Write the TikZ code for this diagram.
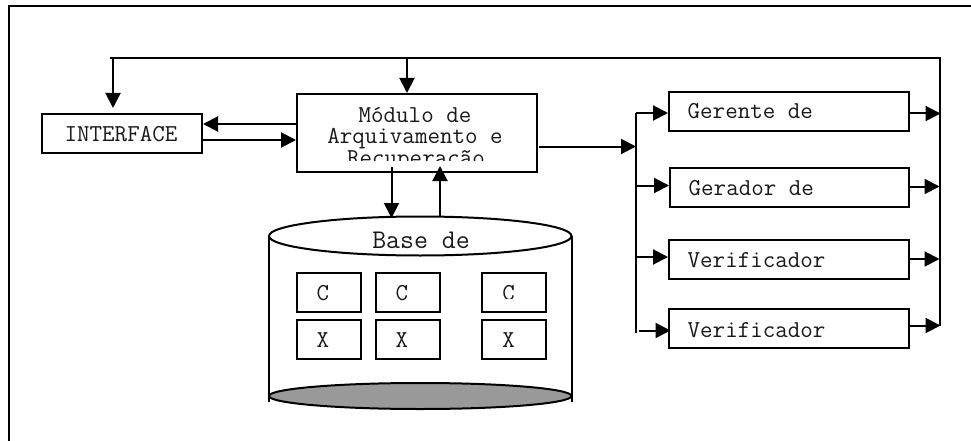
\documentclass[tikz,border=0pt]{standalone}
\usetikzlibrary{arrows.meta}
\tikzset{
  x=1pt,y=-1pt,
  box/.style={draw=black,line width=2pt,fill=white,inner sep=0pt,anchor=north west},
  conn/.style={line width=2pt,-{Triangle[length=15pt,width=15pt]}},
  wire/.style={line width=2pt},
  lbl/.style={font=\fontsize{24.3}{27}\selectfont\ttfamily,text=black!90,inner sep=0pt,anchor=base},
  lblw/.style={lbl,anchor=base west}
}
\begin{document}
\begin{tikzpicture}
\useasboundingbox (0,0) rectangle (971,441);
\draw[line width=2.2pt] (971,6) -- (9,6) -- (9,441);
% boxes
\node[box,minimum width=160pt,minimum height=39pt] (iface) at (41,113) {};
\node[box,minimum width=240pt,minimum height=78pt] (mod) at (296,93) {};
\node[box,minimum width=240pt,minimum height=39pt] (g1) at (668,91) {};
\node[box,minimum width=239pt,minimum height=39pt] (g2) at (669,167) {};
\node[box,minimum width=240pt,minimum height=39pt] (v1) at (668,239) {};
\node[box,minimum width=240pt,minimum height=39pt] (v2) at (668,308) {};
% labels
\node[lbl] (tiface) at (121,142) {INTERFACE};
\node[lbl] (t1) at (415,122) {Módulo de};
\node[lbl] (t2) at (415,143) {Arquivamento e};
\begin{scope}
\clip (300,150) rectangle (530,160.5);
\node[lbl] (t3) at (416,165) {Recuperação};
\end{scope}
\node[lblw] (tg1) at (687.5,119) {Gerente de};
\node[lblw] (tg2) at (688.5,195) {Gerador de};
\node[lblw] (tv1) at (687.5,267) {Verificador};
\node[lblw] (tv2) at (687.5,337) {Verificador};
% cylinder
\coordinate (cTL) at (269,236);
\coordinate (cBL) at (269,401.5);
\coordinate (cTR) at (571.5,236);
\coordinate (cBR) at (571.5,401.5);
\draw[wire] (cTL) -- (cBL) (cTR) -- (cBR);
\draw[wire] (420.25,236) ellipse [x radius=151.25,y radius=19.5];
\node[lbl,font=\fontsize{27}{30}\selectfont\ttfamily] (tbase) at (421,248) {Base de};
\draw[wire,fill=black!40] (420.25,396) ellipse [x radius=151.25,y radius=13];
\node[box,minimum width=64pt,minimum height=39pt] (c1) at (296,272) {};
\node[box,minimum width=64pt,minimum height=39pt] (c2) at (375,272) {};
\node[box,minimum width=64pt,minimum height=39pt] (c3) at (481,272) {};
\node[box,minimum width=64pt,minimum height=39pt] (x1) at (296,319) {};
\node[box,minimum width=64pt,minimum height=39pt] (x2) at (375,319) {};
\node[box,minimum width=64pt,minimum height=39pt] (x3) at (481,319) {};
\node[lbl] (tc1) at (323,300) {C};
\node[lbl] (tc2) at (402,300) {C};
\begin{scope}
\clip (490,280) rectangle (530,298.5);
\node[lbl] (tc3) at (508.5,300.5) {C};
\end{scope}
\node[lbl] (tx1) at (323,347) {X};
\node[lbl] (tx2) at (402,347) {X};
\node[lbl] (tx3) at (508.5,347) {X};
% feedback bus
\coordinate (busL) at (110,58);
\coordinate (busR) at (939.5,58);
\coordinate (busEnd) at (939.5,326);
\draw[wire] (busL) -- (busR) -- (busEnd);
\draw[conn] (113,58) -- (113,108);
\draw[conn] (407,58) -- (mod.north -| 407,0);
% interface <-> module
\draw[conn] (mod.west |- 0,124) -- (iface.east |- 0,124);
\draw[conn] (iface.east |- 0,140) -- (mod.west |- 0,140);
% module <-> base
\draw[conn] (391.5,167) -- (391.5,218);
\draw[conn] (440,217) -- (440,166);
% module -> distribution bus
\coordinate (distT) at (636,113);
\coordinate (distB) at (636,333);
\draw[wire] (distT) -- (distB);
\draw[conn] (539,146.5) -- (636,146.5);
\draw[conn] (distT) -- (g1.west |- distT);
\draw[conn] (636,185.5) -- (g2.west |- 0,185.5);
\draw[conn] (636,257) -- (v1.west |- 0,257);
\draw[conn] (638.5,330.5) -- (670.5,330.5);
% tools -> feedback bus
\draw[conn] (g1.east |- 0,113.5) -- (940.5,113.5);
\draw[conn] (g2.east |- 0,186.5) -- (939.5,186.5);
\draw[conn] (v1.east |- 0,259) -- (939.5,259);
\draw[conn] (v2.east |- 0,325.5) -- (940.5,325.5);
\end{tikzpicture}
\end{document}
